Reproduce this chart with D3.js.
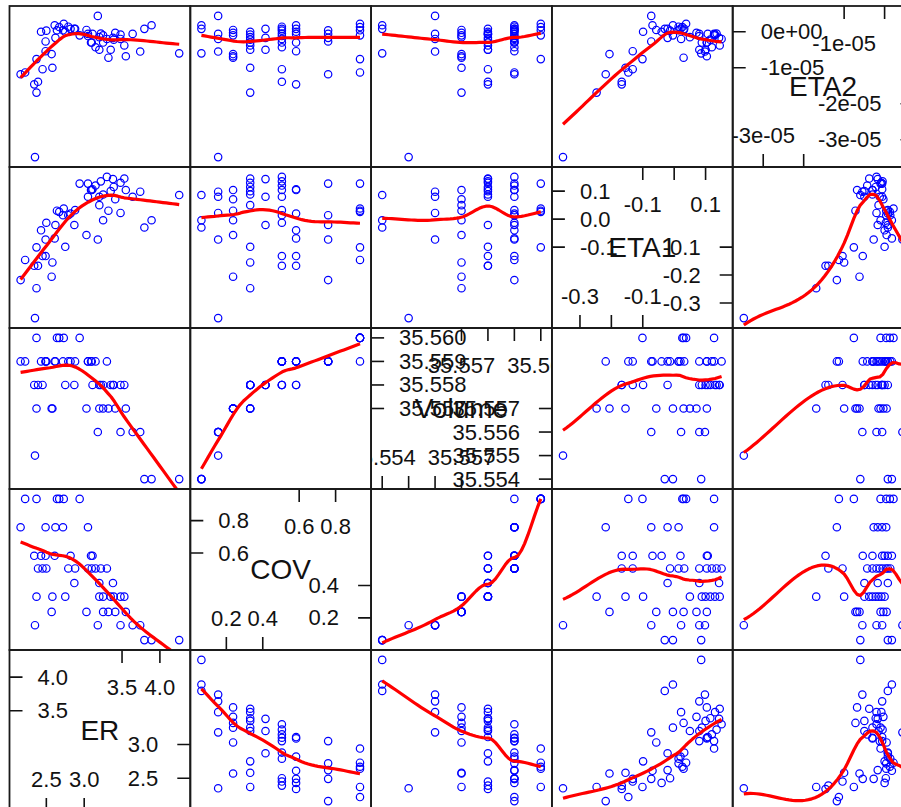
<!DOCTYPE html>
<html>
<head>
<meta charset="utf-8">
<script src="https://cdn.jsdelivr.net/npm/d3@7"></script>
<style>
  html, body { margin: 0; padding: 0; background: #fff; }
  svg { display: block; font-family: "Liberation Sans", Arial, sans-serif; }
</style>
</head>
<body>
<div id="chart"></div>
<script>
// variables in splom order (ER is first column / bottom row)
const varNames = ["ER", "COV", "Volume", "ETA1", "ETA2"];

const ER = [4.255, 3.89, 3.795,
    3.74, 3.64, 3.48, 3.18, 2.35,
    3.55, 3.41, 3.32, 3.25, 3.03, 2.57,
    3.53, 3.48, 3.39, 3.35, 3.25, 3.20, 2.75, 2.58, 2.37,
    3.38, 3.20, 2.87,
    3.30, 3.22, 3.15, 3.10, 3.05, 2.88, 2.79, 2.50, 2.45, 2.39,
    3.11, 3.09, 2.82, 2.61, 2.49, 2.43, 2.34,
    3.05, 2.72, 2.62, 2.49, 2.16,
    2.94, 2.73, 2.67, 2.64, 2.37, 2.22];

const COV = [0.063, 0.063, 0.063,
    0.155, 0.155, 0.155, 0.155, 0.155,
    0.237, 0.237, 0.237, 0.237, 0.237, 0.237,
    0.331, 0.331, 0.331, 0.331, 0.331, 0.331, 0.331, 0.331, 0.331,
    0.415, 0.415, 0.415,
    0.505, 0.505, 0.505, 0.505, 0.505, 0.505, 0.505, 0.505, 0.505, 0.505,
    0.583, 0.583, 0.583, 0.583, 0.583, 0.583, 0.583,
    0.759, 0.759, 0.759, 0.759, 0.759,
    0.934, 0.934, 0.934, 0.934, 0.934, 0.934];

const Volume = [35.554, 35.554, 35.554,
    35.556, 35.556, 35.556, 35.556, 35.555,
    35.557, 35.557, 35.557, 35.557, 35.557, 35.557,
    35.558, 35.558, 35.558, 35.558, 35.558, 35.557, 35.558, 35.557, 35.557,
    35.558, 35.558, 35.558,
    35.559, 35.558, 35.559, 35.559, 35.559, 35.559, 35.559, 35.559, 35.558, 35.558,
    35.558, 35.559, 35.559, 35.559, 35.559, 35.559, 35.558,
    35.559, 35.559, 35.559, 35.559, 35.559,
    35.560, 35.560, 35.560, 35.560, 35.560, 35.559];

const ETA1 = [0.086, -0.004, -0.030,
    0.098, 0.080, 0.022, -0.073, -0.354,
    0.104, 0.071, 0.030, -0.004, -0.057, -0.206,
    0.145, 0.130, 0.115, 0.100, 0.088, 0.050, -0.099, -0.155, -0.247,
    0.143, 0.080, -0.021,
    0.151, 0.135, 0.120, 0.104, 0.080, 0.032, 0.014, -0.013, -0.132, -0.167,
    0.107, 0.104, 0.020, -0.069, -0.132, -0.040, -0.167,
    0.127, 0.014, -0.021, -0.073, -0.218,
    0.127, 0.038, 0.026, 0.030, -0.101, -0.146];

const ETA2 = [-0.60e-5, 0.18e-5, 0.08e-5,
    -0.55e-5, -0.06e-5, -0.20e-5, 0.44e-5, -3.48e-5,
    -0.68e-5, -0.03e-5, -0.72e-5, -0.10e-5, 0.05e-5, -0.62e-5,
    -0.38e-5, -0.08e-5, -0.22e-5, -0.50e-5, -0.30e-5, -0.15e-5, 0.00e-5, -1.00e-5, -1.69e-5,
    -0.17e-5, -0.50e-5, 0.08e-5,
    -0.20e-5, -0.05e-5, -0.43e-5, -0.30e-5, -0.12e-5, 0.08e-5, 0.14e-5, 0.03e-5, -1.04e-5, -1.39e-5,
    -0.06e-5, -0.30e-5, 0.08e-5, 0.18e-5, -0.54e-5, 0.00e-5, -1.46e-5,
    -0.06e-5, 0.04e-5, -0.17e-5, -0.27e-5, -1.18e-5,
    -0.10e-5, 0.22e-5, 0.13e-5, 0.04e-5, -0.76e-5, -1.13e-5];

const columns = { ER, COV, Volume, ETA1, ETA2 };
const nv = varNames.length;

const width = 901, height = 807;
const gridLeft = 9.5, gridTop = 6, pw = 180.8, ph = 161;

// lattice-style limits: extend the data range by 7% each side
function padded(vals) {
    const [a, b] = d3.extent(vals);
    const d = (b - a) * 0.07;
    return [a - d, b + d];
}
const limits = varNames.map(v => padded(columns[v]));

// loess.smooth-like fit: local linear fits with tricube weights, evaluated at
// kd-tree vertices and joined by cubic Hermite pieces, with robustness steps
function loess(xv, yv, span = 2 / 3, iterations = 4, evaluation = 50) {
    const n = xv.length;
    const q = Math.max(2, Math.floor(n * span));
    const [xmin, xmax] = d3.extent(xv);
    const xr = xmax - xmin;

    const localFit = (x0, rw) => {
        const d = xv.map(x => Math.abs(x - x0));
        const h = d.slice().sort((a, b) => a - b)[q - 1] * 1.0001 + xr * 1e-9;
        let sw = 0, sx = 0, sy = 0;
        const w = d.map((di, i) => {
            const u = di / h;
            const wi = u < 1 ? rw[i] * Math.pow(1 - u * u * u, 3) : 0;
            sw += wi; sx += wi * (xv[i] - x0); sy += wi * yv[i];
            return wi;
        });
        if (sw === 0) return [NaN, 0];
        const mx = sx / sw, my = sy / sw;
        let sxx = 0, sxy = 0;
        w.forEach((wi, i) => {
            const dx = xv[i] - x0 - mx;
            sxx += wi * dx * dx;
            sxy += wi * dx * (yv[i] - my);
        });
        const slope = sxx > sw * xr * xr * 1e-10 ? sxy / sxx : 0;
        return [my - slope * mx, slope];
    };

    // kd-tree cells in one dimension: split at the median until a cell is small
    const sorted = xv.slice().sort((a, b) => a - b);
    const fc = Math.floor(n * span * 0.2);
    const fuzz = 0.005 * xr;
    const verts = [xmin - fuzz, xmax + fuzz];
    const split = (l, u, lo, hi) => {
        if (u - l + 1 <= fc) return;
        const m = Math.floor((l + u) / 2);
        const v = (sorted[m] + sorted[m + 1]) / 2;
        if (v <= lo || v >= hi) return;
        verts.push(v);
        split(l, m, lo, v);
        split(m + 1, u, v, hi);
    };
    split(0, n - 1, verts[0], verts[1]);
    verts.sort((a, b) => a - b);

    let rw = new Array(n).fill(1);
    let vals = [];
    const interp = x => {
        let k = d3.bisectRight(verts, x) - 1;
        k = Math.max(0, Math.min(verts.length - 2, k));
        const a = verts[k], b = verts[k + 1], hh = b - a;
        const t = (x - a) / hh;
        const [f0, d0] = vals[k], [f1, d1] = vals[k + 1];
        const t2 = t * t, t3 = t2 * t;
        return (2 * t3 - 3 * t2 + 1) * f0 + (t3 - 2 * t2 + t) * hh * d0
            + (-2 * t3 + 3 * t2) * f1 + (t3 - t2) * hh * d1;
    };

    for (let it = 1; it <= iterations; it++) {
        vals = verts.map(v => localFit(v, rw));
        if (it === iterations) break;
        const res = xv.map((x, i) => yv[i] - interp(x));
        const s = d3.median(res.map(Math.abs));
        if (!(s > 0)) break;
        rw = res.map(r => {
            const u = r / (6 * s);
            return Math.abs(u) < 1 ? (1 - u * u) * (1 - u * u) : 0;
        });
    }

    return d3.range(evaluation).map(i => {
        const x = xmin + i * xr / (evaluation - 1);
        return [x, interp(x)];
    });
}

function sciLabel(v) {
    if (v === 0) return "0e+00";
    const e = Math.floor(Math.log10(Math.abs(v)) + 1e-9);
    const m = Math.round(v / Math.pow(10, e));
    return `${m}e${e < 0 ? "-" : "+"}${String(Math.abs(e)).padStart(2, "0")}`;
}

function tickInfo(lim) {
    const ticks = d3.ticks(lim[0], lim[1], 5).filter(t => t >= lim[0] && t <= lim[1]);
    const step = ticks.length > 1 ? ticks[1] - ticks[0] : 1;
    const sci = Math.max(Math.abs(lim[0]), Math.abs(lim[1])) < 1e-3;
    const prec = Math.max(0, -Math.floor(Math.log10(step) + 1e-9));
    const fmt = v => {
        if (Math.abs(v) < step * 1e-6) v = 0;
        return sci ? sciLabel(v) : v.toFixed(prec);
    };
    return { ticks, fmt };
}

const svg = d3.select("#chart")
    .append("svg")
    .attr("width", width)
    .attr("height", height);

const defs = svg.append("defs");
const tickLen = 13;

for (let r = 0; r < nv; r++) {
    for (let c = 0; c < nv; c++) {
        const yi = nv - 1 - r;
        const x0 = gridLeft + c * pw;
        const y0 = gridTop + r * ph;
        const xs = d3.scaleLinear().domain(limits[c]).range([x0, x0 + pw]);
        const ys = d3.scaleLinear().domain(limits[yi]).range([y0 + ph, y0]);

        defs.append("clipPath")
            .attr("id", `clip-${r}-${c}`)
            .append("rect")
            .attr("x", x0).attr("y", y0)
            .attr("width", pw).attr("height", ph);

        const g = svg.append("g").attr("clip-path", `url(#clip-${r}-${c})`);

        if (c === yi) {
            // diagonal: variable name with half axes on each side
            const { ticks, fmt } = tickInfo(limits[c]);
            const n = ticks.length;
            const half = Math.ceil(n / 2);
            const lower = ticks.slice(0, half);
            const upper = ticks.slice(n - half);

            const tk = g.append("g").attr("stroke", "#111").attr("stroke-width", 1.6);
            upper.forEach(v => {
                tk.append("line").attr("x1", x0).attr("x2", x0 + tickLen)
                    .attr("y1", ys(v)).attr("y2", ys(v));
                tk.append("line").attr("x1", xs(v)).attr("x2", xs(v))
                    .attr("y1", y0).attr("y2", y0 + tickLen);
            });
            lower.forEach(v => {
                tk.append("line").attr("x1", x0 + pw - tickLen).attr("x2", x0 + pw)
                    .attr("y1", ys(v)).attr("y2", ys(v));
                tk.append("line").attr("x1", xs(v)).attr("x2", xs(v))
                    .attr("y1", y0 + ph - tickLen).attr("y2", y0 + ph);
            });

            const lab = g.append("g").attr("fill", "#111").attr("font-size", 22);
            upper.forEach(v => {
                lab.append("text").attr("x", x0 + 28).attr("y", ys(v))
                    .attr("dominant-baseline", "central").text(fmt(v));
            });
            lower.forEach(v => {
                lab.append("text").attr("x", x0 + pw - 32).attr("y", ys(v))
                    .attr("text-anchor", "end")
                    .attr("dominant-baseline", "central").text(fmt(v));
            });
            // horizontal labels drop any that would overlap the previous one
            const horiz = (vals, y) => {
                let lastRight = -Infinity;
                vals.forEach(v => {
                    const t = lab.append("text").attr("x", xs(v)).attr("y", y)
                        .attr("text-anchor", "middle")
                        .attr("dominant-baseline", "central").text(fmt(v));
                    const w = t.node().getComputedTextLength();
                    if (xs(v) - w / 2 < lastRight) t.remove();
                    else lastRight = xs(v) + w / 2;
                });
            };
            horiz(upper, y0 + 37);
            horiz(lower, y0 + ph - 31.5);

            g.append("text")
                .attr("x", x0 + pw / 2).attr("y", y0 + ph / 2)
                .attr("text-anchor", "middle")
                .attr("dominant-baseline", "central")
                .attr("font-size", 28)
                .attr("fill", "#111")
                .text(varNames[c]);
        } else {
            const xv = columns[varNames[c]];
            const yv = columns[varNames[yi]];

            g.selectAll("circle")
                .data(xv.map((x, i) => [x, yv[i]]))
                .enter()
                .append("circle")
                .attr("cx", d => xs(d[0]))
                .attr("cy", d => ys(d[1]))
                .attr("r", 3.7)
                .attr("fill", "none")
                .attr("stroke", "#0000ff")
                .attr("stroke-width", 1.2);

            const smooth = loess(xv, yv).filter(d => isFinite(d[1]));
            g.append("path")
                .datum(smooth)
                .attr("fill", "none")
                .attr("stroke", "#ff0000")
                .attr("stroke-width", 3.2)
                .attr("stroke-linejoin", "round")
                .attr("d", d3.line().x(d => xs(d[0])).y(d => ys(d[1])));
        }

        svg.append("rect")
            .attr("x", x0).attr("y", y0)
            .attr("width", pw).attr("height", ph)
            .attr("fill", "none")
            .attr("stroke", "#1a1a1a")
            .attr("stroke-width", 1.8);
    }
}
</script>
</body>
</html>
